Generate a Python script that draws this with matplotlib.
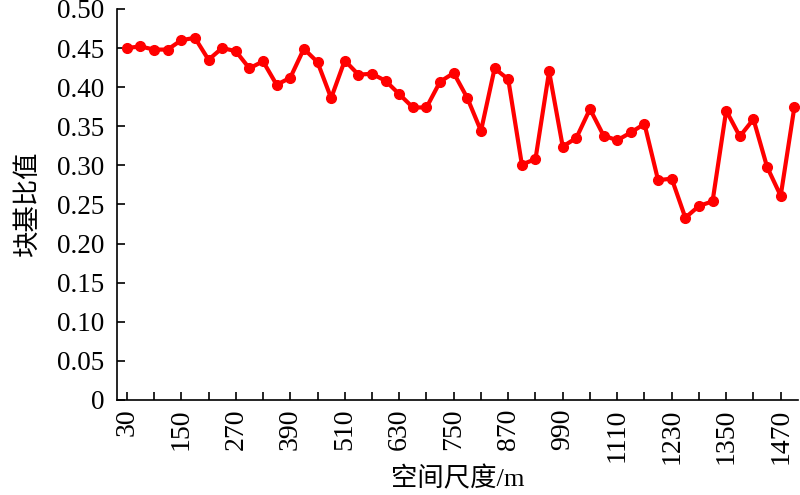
import matplotlib
matplotlib.use("Agg")
import matplotlib.pyplot as plt
import numpy as np

# spatial scale (m) and block-base ratio
scales = np.arange(30, 1501, 30)
ratios = [0.450, 0.452, 0.448, 0.448, 0.460, 0.463, 0.435, 0.450, 0.446, 0.424,
          0.433, 0.403, 0.412, 0.449, 0.432, 0.386, 0.434, 0.416, 0.417, 0.408,
          0.391, 0.374, 0.374, 0.407, 0.418, 0.386, 0.344, 0.424, 0.410, 0.301,
          0.308, 0.420, 0.324, 0.335, 0.372, 0.338, 0.332, 0.342, 0.353, 0.281,
          0.283, 0.233, 0.248, 0.254, 0.370, 0.337, 0.359, 0.298, 0.261, 0.374]

xticks = list(range(30, 1471, 120))
xminor = list(range(90, 1500, 120))
yticks = [0, 0.05, 0.10, 0.15, 0.20, 0.25, 0.30, 0.35, 0.40, 0.45, 0.50]
ylabels = ["0"] + ["%.2f" % v for v in yticks[1:]]

fonts = ["Liberation Serif", "Noto Sans CJK SC", "DejaVu Sans"]
plt.rcParams["font.family"] = fonts

fig = plt.figure(figsize=(8, 4.95), dpi=100)
ax = fig.add_axes([0.146, 0.192, 0.852, 0.790])

ax.plot(scales, ratios, color="#ff0000", lw=3.0, marker="o", ms=7,
        clip_on=False, zorder=3)

ax.set_xlim(8, 1509)
ax.set_ylim(0, 0.5)
ax.set_xticks(xticks)
ax.set_xticklabels([str(v) for v in xticks], rotation=90, fontsize=20)
ax.set_xticks(xminor, minor=True)
ax.set_yticks(yticks)
ax.set_yticklabels(ylabels, fontsize=19.5)

ax.tick_params(axis="both", which="both", direction="in", length=6, width=1.2)
ax.tick_params(axis="y", pad=9)
ax.tick_params(axis="x", pad=6)

for side in ["top", "right"]:
    ax.spines[side].set_visible(False)
for side in ["left", "bottom"]:
    ax.spines[side].set_linewidth(1.2)

ax.set_xlabel("空间尺度/m", fontsize=19, labelpad=2)
ax.set_ylabel("块基比值", fontsize=19, labelpad=12)

fig.savefig("out.png", dpi=100)
